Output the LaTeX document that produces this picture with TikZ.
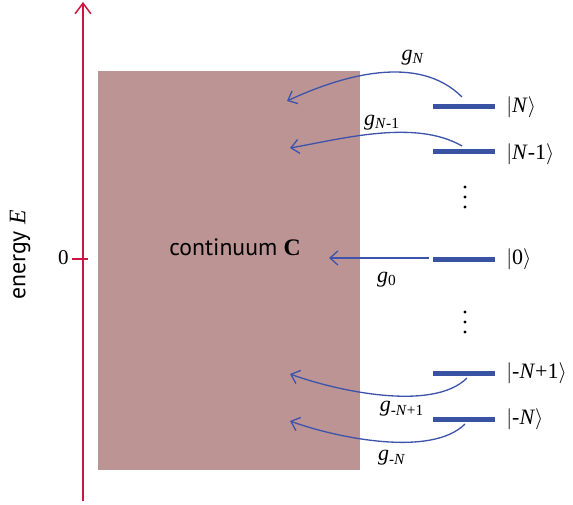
\documentclass[tikz,border=0pt]{standalone}
\usepackage{fontspec}
\setmainfont{Liberation Serif}
\newfontfamily\sansfont{PT Sans}
\usetikzlibrary{arrows.meta}
\definecolor{axisred}{RGB}{204,22,62}
\definecolor{contfill}{RGB}{188,148,148}
\definecolor{levelblue}{RGB}{58,82,162}
\definecolor{arrowblue}{RGB}{62,84,172}
\newcommand{\ket}[1]{\ensuremath{|}#1\ensuremath{\rangle}}
\newcommand{\cpl}[1]{\textit{g}\textsubscript{#1}}
\tikzset{
  level/.style={fill=levelblue,inner sep=0pt,minimum width=62*0.02cm,minimum height=5*0.02cm},
  coupling/.style={arrowblue,line width=0.75pt,-{Straight Barb[length=4.5pt,width=8pt]}},
  ketlabel/.style={anchor=west,font=\fontsize{12.5}{14}\selectfont,inner sep=0pt},
  cpllabel/.style={font=\fontsize{12.5}{14}\selectfont,inner sep=0pt},
  dot/.style={circle,fill=black,inner sep=0pt,minimum size=3.2*0.02cm}
}
\begin{document}
\begin{tikzpicture}[x=0.02cm,y=0.02cm]
        \useasboundingbox (0,0) rectangle (573,504);
        % continuum
        \fill[contfill] (98,34) rectangle (360,433);
        \node (C) at (235,257) {\fontsize{13.5}{15}\selectfont\sansfont continuum {\rmfamily\bfseries C}};
        % energy axis
        \coordinate (E0) at (83,3);
        \coordinate (E1) at (83,502);
        \draw[axisred,line width=0.85pt,-{Straight Barb[length=6pt,width=9pt]}] (E0) to (E1);
        \coordinate (T0) at (72,245);
        \coordinate (T1) at (88,245);
        \draw[axisred,line width=0.85pt] (T0) to (T1);
        \node[anchor=east,inner sep=0pt,font=\fontsize{12}{14}\selectfont] (zero) at (69,246) {0};
        \node[rotate=90,font=\fontsize{13.5}{15}\selectfont] (axis) at (20,249) {\sansfont energy {\rmfamily\itshape E}};
        % levels
        \node[level] (LN) at (464,397) {};
        \node[level] (LN1) at (464,352) {};
        \node[level] (L0) at (464,245) {};
        \node[level] (LmN1) at (464,131) {};
        \node[level] (LmN) at (464,85) {};
        \node[ketlabel] (kN) at (506,397) {\ket{\textit{N}}};
        \node[ketlabel] (kN1) at (506,350) {\ket{\textit{N}-1}};
        \node[ketlabel] (k0) at (506,245) {\ket{0}};
        \node[ketlabel] (kmN1) at (506,131) {\ket{-\textit{N}+1}};
        \node[ketlabel] (kmN) at (506,85) {\ket{-\textit{N}}};
        % dots
        \node[dot] (d11) at (465,317) {};
        \node[dot] (d12) at (465,307) {};
        \node[dot] (d13) at (465,297) {};
        \node[dot] (d21) at (465,192) {};
        \node[dot] (d22) at (465,182) {};
        \node[dot] (d23) at (465,172) {};
        % couplings
        \coordinate (sN) at (462,407);
        \coordinate (eN) at (287,403);
        \coordinate (sN1) at (462,358);
        \coordinate (eN1) at (290,356);
        \coordinate (s0) at (429,246);
        \coordinate (e0) at (329,246);
        \coordinate (smN1) at (467,126);
        \coordinate (emN1) at (290,130);
        \coordinate (smN) at (465,80);
        \coordinate (emN) at (290,83);
        \draw[coupling] (sN) to[out=135,in=25,looseness=0.9] (eN);
        \draw[coupling] (sN1) to[out=150,in=10,looseness=0.8] (eN1);
        \draw[coupling] (s0) to (e0);
        \draw[coupling] (smN1) to[out=225,in=340,looseness=0.7] (emN1);
        \draw[coupling] (smN) to[out=225,in=340,looseness=0.7] (emN);
        \node[cpllabel] (gN) at (413,446) {\cpl{\textit{N}}};
        \node[cpllabel] (gN1) at (382,381) {\cpl{\textit{N}-1}};
        \node[cpllabel] (g0) at (387,224) {\cpl{0}};
        \node[cpllabel] (gmN1) at (402,95) {\cpl{-\textit{N}+1}};
        \node[cpllabel] (gmN) at (392,46) {\cpl{-\textit{N}}};
\end{tikzpicture}
\end{document}
